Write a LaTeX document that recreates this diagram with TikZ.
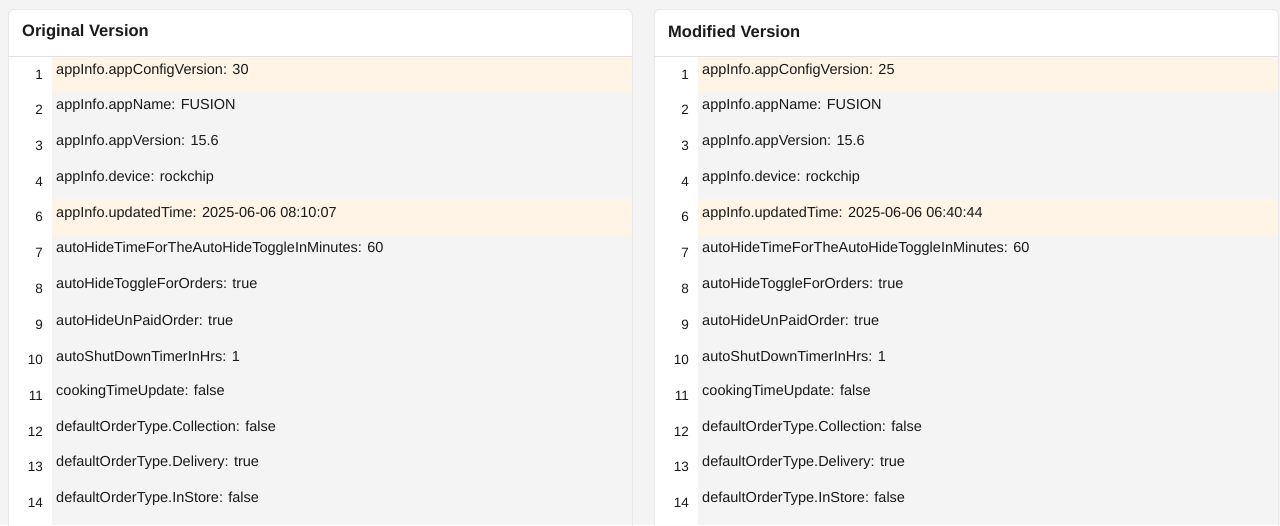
\documentclass[tikz,border=0pt]{standalone}
\usepackage{fontspec}
\setmainfont{Liberation Sans}
\usetikzlibrary{positioning}
\definecolor{pagebg}{HTML}{F4F4F4}
\definecolor{rowbg}{HTML}{F4F4F4}
\definecolor{changed}{HTML}{FFF4E6}
\definecolor{rule}{HTML}{E2E2E2}
\definecolor{ink}{HTML}{1A1A1A}
\tikzset{
  panel/.style={rectangle, rounded corners=6pt, fill=white, draw=rule, line width=0.6pt, anchor=north west, inner sep=0pt},
  title/.style={anchor=west, font=\fontsize{16.5}{18}\selectfont\bfseries, text=ink, inner sep=0pt},
  entry/.style={anchor=west, font=\fontsize{14.5}{16}\selectfont, text=ink, inner sep=0pt},
  lineno/.style={anchor=east, font=\fontsize{13.5}{15}\selectfont, text=ink, inner sep=0pt},
}
\begin{document}
\begin{tikzpicture}[x=1pt, y=-1pt]
    \useasboundingbox (0,0) rectangle (1280,525);
    \fill[pagebg] (0,0) rectangle (1280,525);

    % Panels
    \node (left) [panel, minimum width=624pt, minimum height=530pt] at (8,9) {};
    \node (right) [panel, minimum width=624pt, minimum height=530pt] at (654,9) {};
    \node (lefttitle) [title] at (22,32) {Original Version};
    \node (righttitle) [title] at (668,32) {Modified Version};
    \draw[rule] (8.3,56) -- (631.7,56);
    \draw[rule] (654.3,56) -- (1277.7,56);

    % Rows
    \foreach \x/\side in {52/orig, 698/mod} {
        \fill[rowbg] (\x,56.5) rectangle (\x+580,525);
    }
    \foreach \n/\i/\a/\b [count=\r from 0] in {
        1/1/appInfo.appConfigVersion: 30/appInfo.appConfigVersion: 25,
        2/0/appInfo.appName: FUSION/appInfo.appName: FUSION,
        3/0/appInfo.appVersion: 15.6/appInfo.appVersion: 15.6,
        4/0/appInfo.device: rockchip/appInfo.device: rockchip,
        6/1/appInfo.updatedTime: 2025-06-06 08:10:07/appInfo.updatedTime: 2025-06-06 06:40:44,
        7/0/autoHideTimeForTheAutoHideToggleInMinutes: 60/autoHideTimeForTheAutoHideToggleInMinutes: 60,
        8/0/autoHideToggleForOrders: true/autoHideToggleForOrders: true,
        9/0/autoHideUnPaidOrder: true/autoHideUnPaidOrder: true,
        10/0/autoShutDownTimerInHrs: 1/autoShutDownTimerInHrs: 1,
        11/0/cookingTimeUpdate: false/cookingTimeUpdate: false,
        12/0/defaultOrderType.Collection: false/defaultOrderType.Collection: false,
        13/0/defaultOrderType.Delivery: true/defaultOrderType.Delivery: true,
        14/0/defaultOrderType.InStore: false/defaultOrderType.InStore: false} {
        \pgfmathsetmacro{\yy}{56.5+35.7*\r}
        \ifnum\i=1
            \fill[changed] (52,\yy) rectangle (632,\yy+35.7);
            \fill[changed] (698,\yy) rectangle (1278,\yy+35.7);
        \fi
        \node (on\n) [lineno] at (43,\yy+18) {\n};
        \node (ot\n) [entry] at (56,\yy+14) {\a};
        \node (mn\n) [lineno] at (689,\yy+18) {\n};
        \node (mt\n) [entry] at (702,\yy+14) {\b};
    }
\end{tikzpicture}
\end{document}
